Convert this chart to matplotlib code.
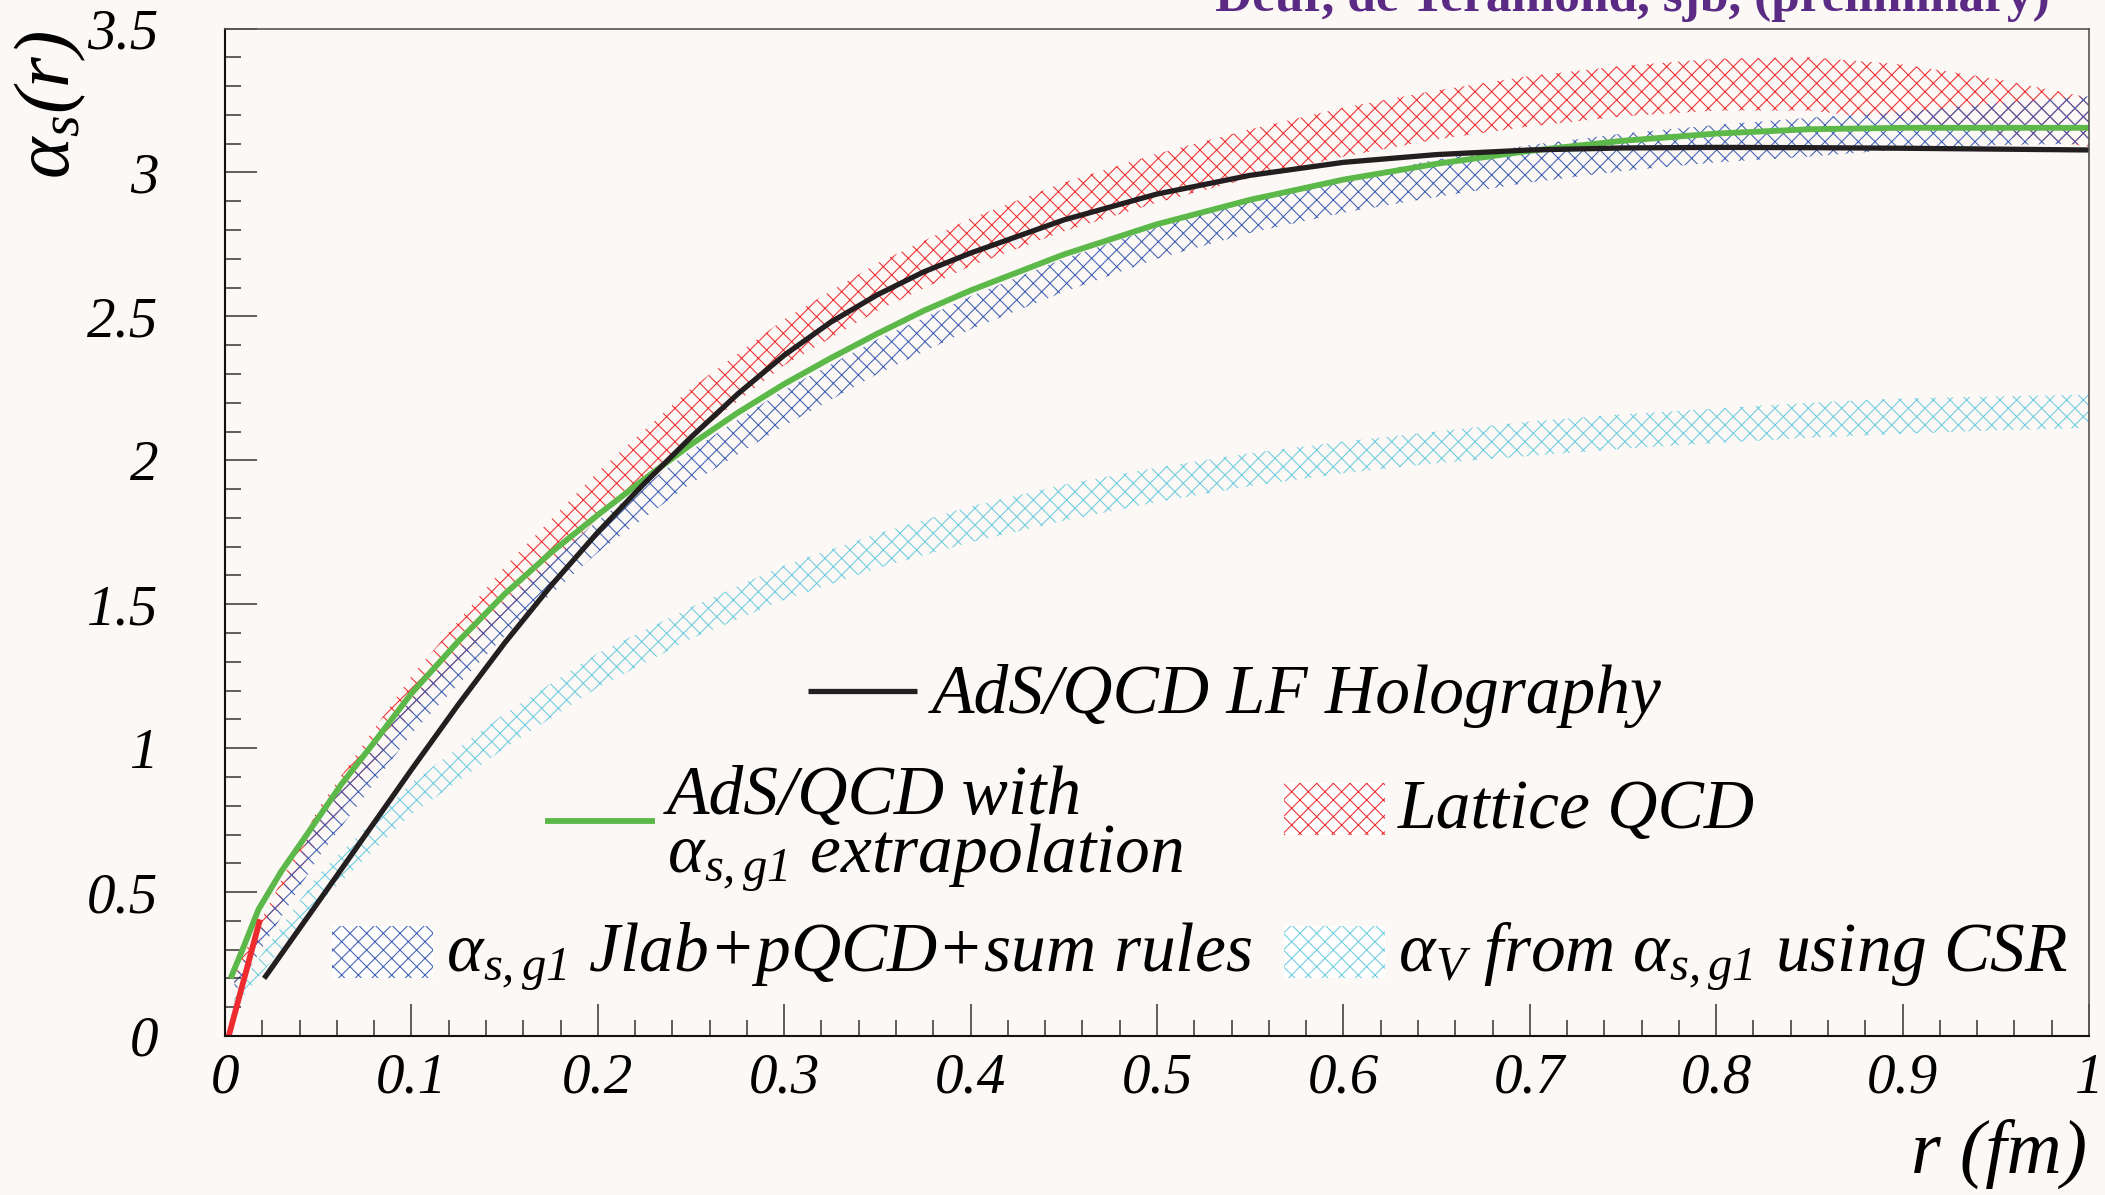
import matplotlib
matplotlib.use('Agg')
import matplotlib.pyplot as plt
from matplotlib.patches import Rectangle
from matplotlib.ticker import MultipleLocator, FormatStrFormatter

plt.rcParams['font.family'] = ['Liberation Serif', 'DejaVu Serif']
plt.rcParams['font.style'] = 'italic'
plt.rcParams['mathtext.fontset'] = 'custom'
plt.rcParams['mathtext.rm'] = 'Liberation Serif'
plt.rcParams['mathtext.it'] = 'Liberation Serif:italic'
plt.rcParams['mathtext.bf'] = 'Liberation Serif:bold'
plt.rcParams['hatch.linewidth'] = 0.75

# AdS/QCD LF Holography (black)
r_holo = [0.021, 0.05, 0.075, 0.1, 0.125, 0.15, 0.175, 0.2, 0.225, 0.25, 0.275, 0.3,
          0.325, 0.35, 0.375, 0.4, 0.45, 0.5, 0.55, 0.6, 0.65, 0.7, 0.75, 0.8, 0.85,
          0.9, 0.95, 1.0]
a_holo = [0.20, 0.465, 0.695, 0.925, 1.15, 1.365, 1.565, 1.75, 1.92, 2.08, 2.23, 2.365,
          2.48, 2.575, 2.655, 2.72, 2.835, 2.925, 2.99, 3.035, 3.062, 3.078, 3.085, 3.087, 3.086,
          3.084, 3.081, 3.078]

# AdS/QCD with alpha_s,g1 extrapolation (green)
r_ext = [0.003, 0.01, 0.018, 0.03, 0.045, 0.0625, 0.08, 0.1, 0.125, 0.15, 0.175, 0.2,
         0.225, 0.25, 0.275, 0.3, 0.325, 0.35, 0.375, 0.4, 0.45, 0.5, 0.55, 0.6, 0.65,
         0.7, 0.75, 0.8, 0.85, 0.9, 0.95, 1.0]
a_ext = [0.20, 0.31, 0.44, 0.57, 0.71, 0.875, 1.02, 1.19, 1.37, 1.535, 1.68, 1.81,
         1.935, 2.055, 2.165, 2.265, 2.355, 2.44, 2.52, 2.59, 2.715, 2.82, 2.905, 2.975, 3.03,
         3.075, 3.11, 3.135, 3.15, 3.155, 3.155, 3.155]

# pQCD piece near the origin (red line)
r_pqcd = [0.002, 0.0188]
a_pqcd = [0.0, 0.405]

# bands
r_band = [0.005, 0.05, 0.1, 0.15, 0.2, 0.25, 0.3, 0.35, 0.4, 0.45, 0.5, 0.55, 0.6,
          0.65, 0.7, 0.75, 0.8, 0.85, 0.9, 0.95, 1.0]
lat_hi = [0.22, 0.79, 1.25, 1.63, 1.96, 2.25, 2.49, 2.685, 2.84, 2.965, 3.065, 3.15, 3.225,
          3.285, 3.335, 3.37, 3.395, 3.40, 3.375, 3.325, 3.26]
lat_lo = [0.18, 0.68, 1.12, 1.47, 1.80, 2.08, 2.33, 2.52, 2.675, 2.795, 2.895, 2.98, 3.055,
          3.115, 3.16, 3.195, 3.215, 3.215, 3.18, 3.13, 3.09]
jlab_hi = [0.20, 0.75, 1.17, 1.51, 1.79, 2.035, 2.245, 2.42, 2.57, 2.70, 2.81, 2.905, 2.98,
           3.045, 3.095, 3.135, 3.165, 3.19, 3.21, 3.24, 3.265]
jlab_lo = [0.15, 0.62, 1.05, 1.39, 1.68, 1.92, 2.12, 2.30, 2.455, 2.585, 2.70, 2.79, 2.86,
           2.915, 2.965, 3.005, 3.035, 3.055, 3.08, 3.095, 3.10]
csr_hi = [0.15, 0.56, 0.88, 1.12, 1.33, 1.49, 1.635, 1.745, 1.84, 1.915, 1.975, 2.025, 2.065,
          2.10, 2.135, 2.16, 2.18, 2.20, 2.215, 2.222, 2.228]
csr_lo = [0.10, 0.46, 0.77, 1.00, 1.21, 1.38, 1.515, 1.625, 1.715, 1.79, 1.855, 1.91, 1.955,
          1.99, 2.015, 2.04, 2.06, 2.078, 2.092, 2.104, 2.112]

bg = '#fbf8f5'
c_red = '#ee2b2f'
c_blue = '#3f5fb4'
c_cyan = '#6dcde0'
c_green = '#5cb848'
c_black = '#231f20'
hatch = 'xx'

fig = plt.figure(figsize=(21.05, 11.95), dpi=100, facecolor=bg)
ax = fig.add_axes([225 / 2105, 1 - 1036 / 1195, 1864 / 2105, 1007.5 / 1195])
ax.set_facecolor(bg)

ax.fill_between(r_band, lat_lo, lat_hi, facecolor='none', edgecolor=c_red, hatch=hatch, linewidth=0)
ax.fill_between(r_band, jlab_lo, jlab_hi, facecolor='none', edgecolor=c_blue, hatch=hatch, linewidth=0)
ax.fill_between(r_band, csr_lo, csr_hi, facecolor='none', edgecolor=c_cyan, hatch=hatch, linewidth=0)

ax.plot(r_ext, a_ext, color=c_green, lw=4.2, solid_capstyle='butt')
ax.plot(r_holo, a_holo, color=c_black, lw=3.8, solid_capstyle='butt')
ax.plot(r_pqcd, a_pqcd, color=c_red, lw=4.2, solid_capstyle='butt')

ax.set_xlim(0, 1)
ax.set_ylim(0, 3.5)
ax.xaxis.set_major_locator(MultipleLocator(0.1))
ax.xaxis.set_minor_locator(MultipleLocator(0.02))
ax.yaxis.set_major_locator(MultipleLocator(0.5))
ax.yaxis.set_minor_locator(MultipleLocator(0.1))
ax.xaxis.set_major_formatter(FormatStrFormatter('%g'))
ax.yaxis.set_major_formatter(FormatStrFormatter('%g'))
ax.tick_params(which='both', direction='in', top=False, right=False, color='#333333', width=1.1)
ax.tick_params(which='major', length=23)
ax.tick_params(which='minor', length=11.5)
ax.tick_params(axis='x', which='major', pad=12, labelsize=41)
ax.tick_params(axis='y', which='major', pad=48, labelsize=41)
for lab in ax.get_xticklabels() + ax.get_yticklabels():
    lab.set_fontstyle('italic')

for s in ['left', 'bottom']:
    ax.spines[s].set_linewidth(1.5)
    ax.spines[s].set_color('#111111')
for s in ['top', 'right']:
    ax.spines[s].set_linewidth(1.2)
    ax.spines[s].set_color('#555555')

# axis titles
fig.text(50 / 2105, 1 - 30 / 1195, r'$\mathrm{\alpha}_{\mathit{s}}\mathit{(r)}$',
         rotation=90, ha='center', va='top', fontsize=57)
fig.text(2087 / 2105, 1 - 1173 / 1195, 'r (fm)', ha='right', va='baseline',
         fontsize=55, style='italic')

# header, cut by the top edge as in the original
fig.text(1215 / 2105, 1 - 11 / 1195, 'Deur, de Teramond, sjb, (preliminary)',
         ha='left', va='baseline', fontsize=37, fontweight='bold', style='normal',
         color='#5a2a84')

# legend
fs = 50
ax.plot([0.3128, 0.3712], [0.3427, 0.3427], transform=ax.transAxes, color=c_black, lw=3.8,
        solid_capstyle='butt')
ax.text(0.3793, 0.3206, 'AdS/QCD LF Holography', transform=ax.transAxes, fontsize=fs,
        va='baseline', ha='left')

ax.plot([0.1715, 0.2309], [0.2137, 0.2137], transform=ax.transAxes, color=c_green, lw=4.2,
        solid_capstyle='butt')
ax.text(0.2371, 0.2203, 'AdS/QCD with', transform=ax.transAxes, fontsize=fs,
        va='baseline', ha='left')
ax.text(0.2371, 0.1628, r'$\mathrm{\alpha}_{\mathit{s,g1}}$ extrapolation', transform=ax.transAxes,
        fontsize=fs, va='baseline', ha='left')

for (x0, y0, col, label) in [
        (0.5681, 0.1995, c_red, 'Lattice QCD'),
        (0.0574, 0.0576, c_blue, r'$\mathrm{\alpha}_{\mathit{s,g1}}$ Jlab+pQCD+sum rules'),
        (0.5681, 0.0576, c_cyan, r'$\mathrm{\alpha}_{\mathit{V}}$ from $\mathrm{\alpha}_{\mathit{s,g1}}$ using CSR')]:
    ax.add_patch(Rectangle((x0, y0), 0.0542, 0.0516, transform=ax.transAxes,
                           facecolor='white', edgecolor=col, hatch=hatch, linewidth=0))
    ax.text(x0 + 0.0612, y0 + 0.007, label, transform=ax.transAxes, fontsize=fs,
            va='baseline', ha='left')

fig.savefig('out.png', dpi=100, facecolor=bg)
